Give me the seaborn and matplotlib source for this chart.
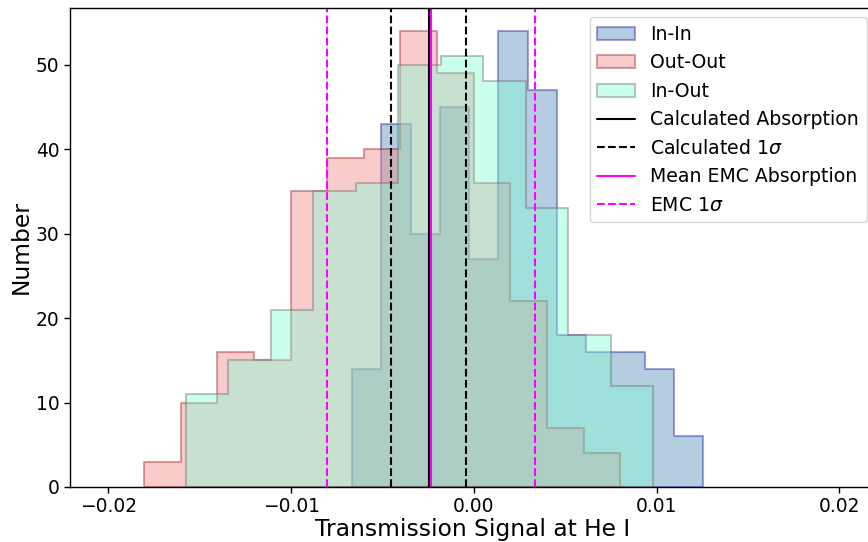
import numpy as np
import pandas as pd
import matplotlib
matplotlib.use("Agg")
import matplotlib.pyplot as plt
from matplotlib.colors import to_rgba
from matplotlib.patches import Patch
from matplotlib.lines import Line2D
import seaborn as sns

# histogram counts (330 samples each)
in_in_counts = [14, 43, 30, 45, 27, 54, 47, 18, 16, 16, 14, 6]
in_in_range = (-0.00667, 0.01254)

out_out_counts = [3, 10, 16, 15, 35, 39, 40, 54, 49, 36, 22, 7, 4]
out_out_range = (-0.01806, 0.00802)

in_out_counts = [11, 15, 21, 35, 36, 50, 51, 48, 33, 18, 12]
in_out_range = (-0.01577, 0.00980)

# reference lines
calc_abs = -0.00246
calc_sigma = 0.00205
emc_mean = -0.00233
emc_sigma = 0.00569

sns.set_style("ticks", {"axes.edgecolor": "black", "xtick.color": "black",
                        "ytick.color": "black", "text.color": "black",
                        "axes.labelcolor": "black"})
plt.rcParams['font.family'] = ['DejaVu Sans']

fig = plt.figure(figsize=(8.68, 5.42), dpi=100)
ax = fig.add_axes([70 / 868, 55 / 542, 806 / 868, 479 / 542])

styles = {
    "In-In": ("steelblue", to_rgba("darkblue", 0.35)),
    "Out-Out": ("lightcoral", to_rgba("darkred", 0.35)),
    "In-Out": ("aquamarine", to_rgba("dimgray", 0.4)),
}


def draw_hist(counts, rng, name):
    face, edge = styles[name]
    edges = np.linspace(rng[0], rng[1], len(counts) + 1)
    df = pd.DataFrame({"x": (edges[:-1] + edges[1:]) / 2, "n": counts})
    sns.histplot(data=df, x="x", weights="n", bins=edges.tolist(), element="step",
                 fill=True, facecolor=to_rgba(face, 0.4), edgecolor=edge,
                 linewidth=1.5, ax=ax)


draw_hist(in_in_counts, in_in_range, "In-In")
draw_hist(out_out_counts, out_out_range, "Out-Out")
draw_hist(in_out_counts, in_out_range, "In-Out")

ax.axvline(calc_abs, color="black", lw=1.5)
ax.axvline(calc_abs - calc_sigma, color="black", ls="--", lw=1.5)
ax.axvline(calc_abs + calc_sigma, color="black", ls="--", lw=1.5)
ax.axvline(emc_mean, color="magenta", lw=1.5)
ax.axvline(emc_mean - emc_sigma, color="magenta", ls="--", lw=1.5)
ax.axvline(emc_mean + emc_sigma, color="magenta", ls="--", lw=1.5)

ax.set_xlim(-0.0221, 0.0220)
ax.set_ylim(0, 56.7)
ax.set_xticks([-0.02, -0.01, 0.0, 0.01, 0.02])
ax.set_yticks([0, 10, 20, 30, 40, 50])
ax.tick_params(labelsize=13.4, width=1, length=4)
for s in ax.spines.values():
    s.set_linewidth(1)
ax.set_xlabel("Transmission Signal at He I", fontsize=16.8, labelpad=1)
ax.set_ylabel("Number", fontsize=16.8, labelpad=2.5)

handles = [Patch(facecolor=to_rgba(f, 0.4), edgecolor=e, lw=1.5, label=k)
           for k, (f, e) in styles.items()]
handles += [
    Line2D([], [], color="black", lw=1.5, label="Calculated Absorption"),
    Line2D([], [], color="black", ls="--", lw=1.5, label=r"Calculated 1$\sigma$"),
    Line2D([], [], color="magenta", lw=1.5, label="Mean EMC Absorption"),
    Line2D([], [], color="magenta", ls="--", lw=1.5, label=r"EMC 1$\sigma$"),
]
ax.legend(handles=handles, loc="upper right", fontsize=13.6, frameon=True,
          framealpha=0.8, edgecolor="0.8", fancybox=True)

fig.savefig("out.png", dpi=100)
